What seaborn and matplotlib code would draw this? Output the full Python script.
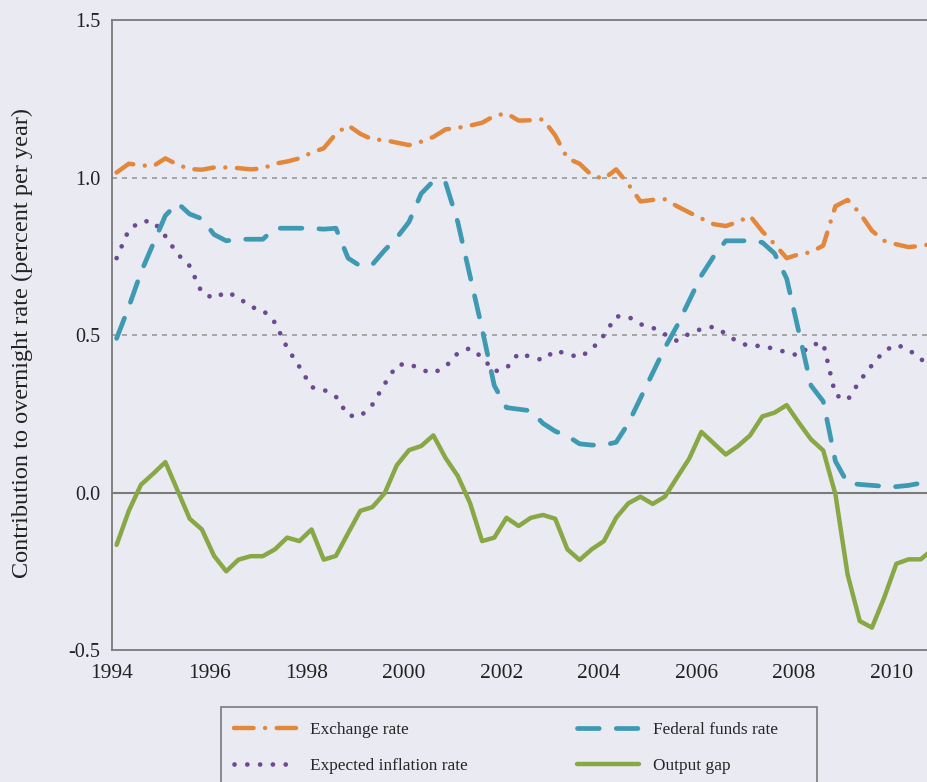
import numpy as np
import pandas as pd
import matplotlib
matplotlib.use("Agg")
import matplotlib.pyplot as plt
from matplotlib.patches import Rectangle
import seaborn as sns

# === Data (quarterly, 1994Q1 - 2010Q4) ===
quarters = pd.period_range("1994Q1", "2010Q4", freq="Q")

exchange_rate = [
    1.017, 1.045, 1.040, 1.037, 1.062, 1.042, 1.028, 1.026,
    1.033, 1.033, 1.031, 1.027, 1.030, 1.045, 1.052, 1.062,
    1.080, 1.094, 1.140, 1.167, 1.140, 1.122, 1.120, 1.112,
    1.104, 1.115, 1.130, 1.154, 1.159, 1.166, 1.175, 1.197,
    1.205, 1.182, 1.183, 1.186, 1.135, 1.062, 1.045, 1.008,
    0.997, 1.027, 0.980, 0.925, 0.930, 0.932, 0.910, 0.890,
    0.871, 0.853, 0.847, 0.860, 0.879, 0.830, 0.790, 0.745,
    0.757, 0.764, 0.785, 0.910, 0.930, 0.888, 0.832, 0.800,
    0.789, 0.780, 0.784, 0.790,
]

fed_funds_rate = [
    0.49, 0.59, 0.70, 0.79, 0.88, 0.92, 0.885, 0.87,
    0.82, 0.80, 0.805, 0.805, 0.805, 0.84, 0.84, 0.84,
    0.84, 0.837, 0.84, 0.745, 0.72, 0.725, 0.77, 0.81,
    0.86, 0.95, 0.99, 0.985, 0.86, 0.69, 0.52, 0.34,
    0.27, 0.265, 0.26, 0.22, 0.195, 0.18, 0.155, 0.151,
    0.151, 0.16, 0.22, 0.30, 0.38, 0.46, 0.53, 0.61,
    0.69, 0.75, 0.80, 0.80, 0.80, 0.795, 0.76, 0.68,
    0.51, 0.34, 0.29, 0.10, 0.03, 0.026, 0.023, 0.02,
    0.019, 0.023, 0.03, 0.03,
]

expected_inflation = [
    0.745, 0.835, 0.862, 0.862, 0.815, 0.758, 0.720, 0.635,
    0.617, 0.638, 0.620, 0.590, 0.580, 0.540, 0.460, 0.400,
    0.335, 0.327, 0.305, 0.245, 0.242, 0.280, 0.345, 0.405,
    0.410, 0.390, 0.380, 0.400, 0.443, 0.459, 0.430, 0.385,
    0.395, 0.443, 0.431, 0.421, 0.452, 0.440, 0.430, 0.455,
    0.500, 0.560, 0.559, 0.535, 0.524, 0.503, 0.482, 0.505,
    0.520, 0.527, 0.505, 0.478, 0.465, 0.467, 0.456, 0.446,
    0.435, 0.470, 0.475, 0.310, 0.294, 0.355, 0.405, 0.450,
    0.470, 0.455, 0.423, 0.410,
]

output_gap = [
    -0.166, -0.058, 0.025, 0.060, 0.097, 0.007, -0.083, -0.117,
    -0.201, -0.250, -0.213, -0.202, -0.202, -0.180, -0.143, -0.154,
    -0.117, -0.213, -0.201, -0.129, -0.058, -0.046, -0.002, 0.087,
    0.135, 0.148, 0.182, 0.110, 0.053, -0.032, -0.154, -0.143,
    -0.080, -0.106, -0.080, -0.071, -0.083, -0.180, -0.214, -0.180,
    -0.154, -0.080, -0.034, -0.013, -0.036, -0.013, 0.048, 0.108,
    0.193, 0.157, 0.121, 0.148, 0.182, 0.242, 0.254, 0.278,
    0.222, 0.169, 0.134, -0.005, -0.260, -0.408, -0.429, -0.334,
    -0.226, -0.212, -0.212, -0.180,
]

year_ticks = list(range(1994, 2011, 2))
y_ticks = [-0.5, 0.0, 0.5, 1.0, 1.5]


def main():
    bg = "#EAEAF2"
    sns.set_style("darkgrid", {"axes.facecolor": bg, "figure.facecolor": bg,
                               "axes.grid": False})
    plt.rcParams["font.family"] = ["Liberation Serif", "DejaVu Serif"]
    plt.rcParams["axes.unicode_minus"] = False

    # quarter positions on a decimal-year axis
    x = np.array([q.year + (q.quarter - 1) / 4 + 0.1 for q in quarters])
    df = pd.DataFrame({
        "date": x,
        "Exchange rate": exchange_rate,
        "Expected inflation rate": expected_inflation,
        "Federal funds rate": fed_funds_rate,
        "Output gap": output_gap,
    })

    fig = plt.figure(figsize=(9.28, 7.82), dpi=100)
    ax = fig.add_axes([0.1204, 0.1688, 0.8796, 0.805])

    # reference lines
    ax.axhline(1.0, color="#9a9a9a", lw=1.2, ls=(0, (3, 3)), zorder=1)
    ax.axhline(0.5, color="#9a9a9a", lw=1.2, ls=(0, (3, 3)), zorder=1)
    ax.axhline(0.0, color="#7a7a7a", lw=1.5, zorder=1)

    sns.lineplot(data=df, x="date", y="Exchange rate", ax=ax, color="#E3883A",
                 linewidth=3.2, linestyle=(0, (4.4, 2.6, 0.01, 2.6)),
                 dash_capstyle="round", label="Exchange rate")
    sns.lineplot(data=df, x="date", y="Expected inflation rate", ax=ax,
                 color="#6B4A93", linewidth=3.4, linestyle=(0, (0.01, 2.7)),
                 dash_capstyle="round", label="Expected inflation rate")
    sns.lineplot(data=df, x="date", y="Federal funds rate", ax=ax,
                 color="#3D9AB2", linewidth=3.4, linestyle=(0, (4.6, 3.6)),
                 dash_capstyle="round", label="Federal funds rate")
    sns.lineplot(data=df, x="date", y="Output gap", ax=ax, color="#88A846",
                 linewidth=3.2, label="Output gap")

    ax.set_xlim(1994, 2010.75)
    ax.set_ylim(-0.5, 1.5)
    ax.set_xticks(year_ticks)
    ax.set_yticks(y_ticks)
    ax.set_yticklabels([f"{v:.1f}" for v in y_ticks])
    ax.tick_params(axis="both", direction="out", length=5, width=1.2,
                   color="#7a7a7a", labelsize=14.5, labelcolor="#222222")
    ax.tick_params(axis="x", pad=5, labelsize=15.5)
    ax.tick_params(axis="y", pad=3)

    for side in ["left", "bottom", "top"]:
        ax.spines[side].set_visible(True)
        ax.spines[side].set_color("#7a7a7a")
        ax.spines[side].set_linewidth(1.3)
    ax.spines["right"].set_visible(False)

    ax.set_xlabel("")
    ax.set_ylabel("Contribution to overnight rate (percent per year)",
                  fontsize=17.5, color="#222222")
    ax.yaxis.set_label_coords(-0.097, 0.487)

    # === Legend below the plot (box runs off the bottom edge) ===
    fig.patches.append(Rectangle((221 / 928, -0.05), (817 - 221) / 928,
                                 0.05 + (782 - 707) / 782,
                                 transform=fig.transFigure, fill=False,
                                 edgecolor="#7a7a7a", linewidth=1.2))
    handles, labels = ax.get_legend_handles_labels()
    ax.get_legend().remove()
    fig.legend(handles, labels, ncol=2, loc="upper left",
               bbox_to_anchor=(0.238, 0.0935), borderaxespad=0,
               fontsize=12.4, frameon=False,
               handlelength=3.6, handletextpad=0.85, columnspacing=6.3,
               labelspacing=1.15, borderpad=0.75)

    fig.savefig("out.png", dpi=100, facecolor=bg)


if __name__ == "__main__":
    main()
